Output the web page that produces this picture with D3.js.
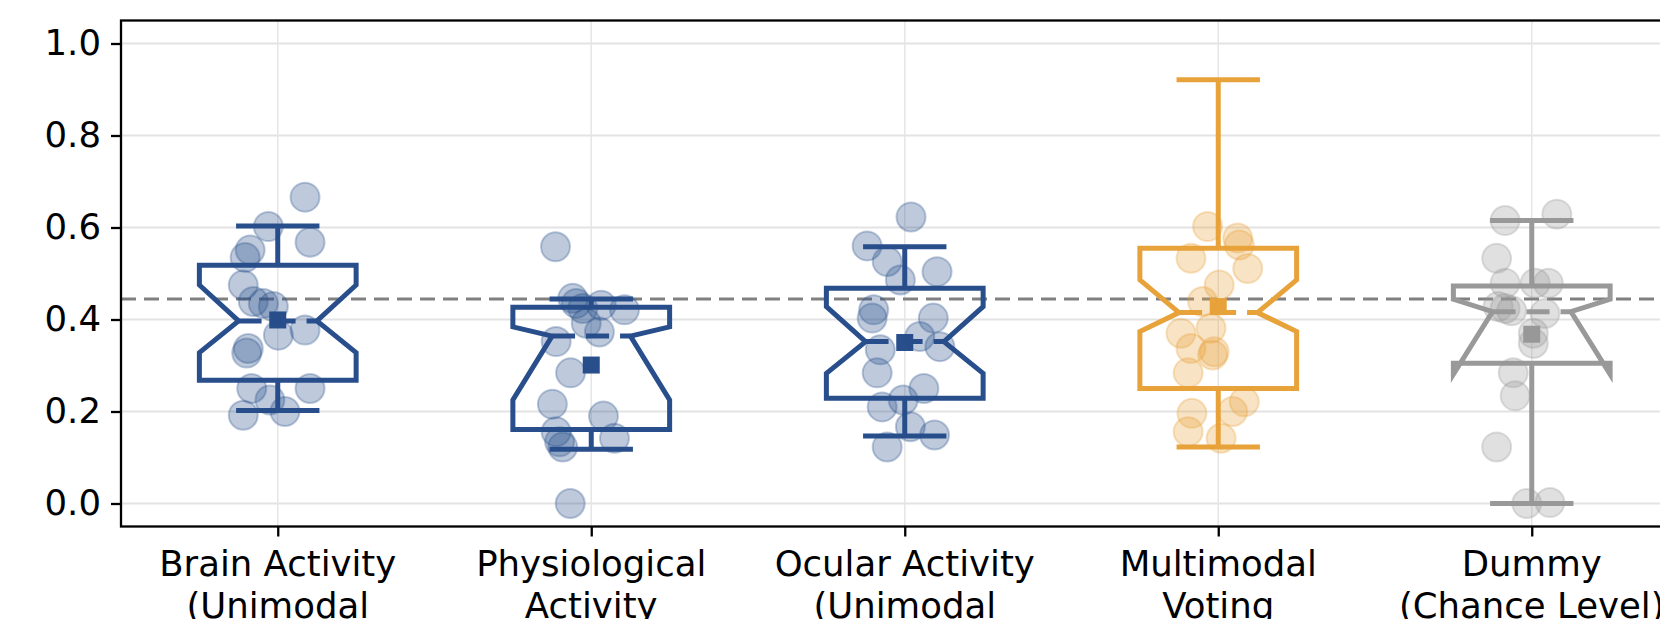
<!DOCTYPE html>
<html>
<head>
<meta charset="utf-8">
<script src="https://cdn.jsdelivr.net/npm/d3@7"></script>
<style>
  html, body { margin: 0; padding: 0; background: #fff; overflow: hidden; }
  svg { display: block; font-family: "DejaVu Sans", sans-serif; }
</style>
</head>
<body>
<div id="chart"></div>
<script>
// categories (x tick labels, two visible lines each)
const categories = [
  ["Brain Activity", "(Unimodal"],
  ["Physiological", "Activity"],
  ["Ocular Activity", "(Unimodal"],
  ["Multimodal", "Voting"],
  ["Dummy", "(Chance Level)"]
];

// box statistics
const whiskerLow  = [0.202, 0.118, 0.147, 0.123, 0.000];
const q1          = [0.268, 0.161, 0.229, 0.250, 0.305];
const notchLow    = [0.328, 0.225, 0.283, 0.374, 0.281];
const median      = [0.397, 0.364, 0.352, 0.415, 0.417];
const notchHigh   = [0.475, 0.384, 0.428, 0.486, 0.444];
const q3          = [0.518, 0.4265, 0.468, 0.555, 0.473];
const whiskerHigh = [0.603, 0.4446, 0.558, 0.921, 0.615];
const means       = [0.399, 0.301, 0.350, 0.428, 0.368];

const chanceLevel = 0.4446;

// individual scores per category
const pointValues = [
  [0.666, 0.602, 0.568, 0.551, 0.535, 0.475, 0.439, 0.435, 0.428, 0.366, 0.377, 0.337, 0.327, 0.250, 0.250, 0.225, 0.192, 0.200],
  [0.558, 0.446, 0.435, 0.424, 0.431, 0.421, 0.392, 0.373, 0.352, 0.284, 0.216, 0.190, 0.156, 0.142, 0.123, 0.134, 0.000],
  [0.623, 0.560, 0.526, 0.504, 0.486, 0.421, 0.403, 0.403, 0.363, 0.334, 0.341, 0.284, 0.250, 0.225, 0.210, 0.167, 0.149, 0.123],
  [0.602, 0.577, 0.562, 0.533, 0.511, 0.475, 0.439, 0.381, 0.370, 0.337, 0.330, 0.323, 0.284, 0.221, 0.200, 0.196, 0.156, 0.142],
  [0.615, 0.629, 0.533, 0.479, 0.479, 0.479, 0.428, 0.424, 0.419, 0.413, 0.370, 0.348, 0.284, 0.234, 0.123, 0.000, 0.002]
];
// horizontal jitter of each point, in category units
const pointJitter = [
  [0.087, -0.030, 0.103, -0.088, -0.104, -0.110, -0.078, -0.046, -0.014, 0.002, 0.087, -0.094, -0.099, -0.083, 0.103, -0.025, -0.110, 0.023],
  [-0.114, -0.059, -0.048, -0.027, 0.032, 0.106, -0.016, 0.026, -0.112, -0.066, -0.124, 0.039, -0.112, 0.074, -0.091, -0.101, -0.067],
  [0.020, -0.120, -0.056, 0.103, -0.014, -0.099, -0.104, 0.091, 0.048, -0.078, 0.112, -0.088, 0.061, -0.005, -0.072, 0.018, 0.095, -0.056],
  [-0.034, 0.062, 0.067, -0.087, 0.094, 0.003, -0.050, -0.023, -0.119, -0.087, -0.013, -0.018, -0.096, 0.083, 0.046, -0.084, -0.096, 0.009],
  [-0.085, 0.080, -0.112, -0.085, 0.011, 0.053, -0.107, -0.085, -0.064, 0.042, 0.005, 0.005, -0.059, -0.053, -0.112, -0.016, 0.058]
];

const yTicks = [0.0, 0.2, 0.4, 0.6, 0.8, 1.0];
const palette = ["#284e8c", "#284e8c", "#284e8c", "#e8a23a", "#999999"];

const W = 1660, H = 619;
const fontSize = 35.5;

const svg = d3.select("#chart")
  .append("svg")
    .attr("width", W)
    .attr("height", H);

//Scales
const x = d3.scaleLinear().domain([-0.5, 4.5]).range([121, 1688.5]);
const y = d3.scaleLinear().domain([-0.05, 1.05]).range([526.5, 20.5]);

//Grid
svg.append("g")
  .selectAll("line")
  .data(yTicks)
  .join("line")
    .attr("x1", x(-0.5)).attr("x2", x(4.5))
    .attr("y1", d => y(d)).attr("y2", d => y(d))
    .attr("stroke", "#e3e3e3")
    .attr("stroke-width", 2);

svg.append("g")
  .selectAll("line")
  .data(d3.range(categories.length))
  .join("line")
    .attr("x1", d => x(d)).attr("x2", d => x(d))
    .attr("y1", y(-0.05)).attr("y2", y(1.05))
    .attr("stroke", "#e6e6e6")
    .attr("stroke-width", 1.5);

//Chance level line
svg.append("line")
  .attr("x1", x(-0.5)).attr("x2", x(4.5))
  .attr("y1", y(chanceLevel)).attr("y2", y(chanceLevel))
  .attr("stroke", "#808080")
  .attr("stroke-width", 3)
  .attr("stroke-dasharray", "15,8");

//Boxes
const boxes = svg.append("g")
  .selectAll("g")
  .data(d3.range(categories.length))
  .join("g")
    .attr("stroke", i => palette[i])
    .attr("fill", "none")
    .attr("stroke-width", 5);

boxes.append("path")
  .attr("stroke-linejoin", "miter")
  .attr("d", i => {
    const l = x(i - 0.25), r = x(i + 0.25), nl = x(i - 0.125), nr = x(i + 0.125);
    return `M${l},${y(q1[i])}L${l},${y(notchLow[i])}L${nl},${y(median[i])}L${l},${y(notchHigh[i])}` +
      `L${l},${y(q3[i])}L${r},${y(q3[i])}L${r},${y(notchHigh[i])}L${nr},${y(median[i])}` +
      `L${r},${y(notchLow[i])}L${r},${y(q1[i])}Z`;
  });

// whiskers
boxes.append("line")
  .attr("x1", i => x(i)).attr("x2", i => x(i))
  .attr("y1", i => y(q3[i])).attr("y2", i => y(whiskerHigh[i]));
boxes.append("line")
  .attr("x1", i => x(i)).attr("x2", i => x(i))
  .attr("y1", i => y(q1[i])).attr("y2", i => y(whiskerLow[i]));

// caps
boxes.append("line")
  .attr("stroke-linecap", "square")
  .attr("x1", i => x(i - 0.125)).attr("x2", i => x(i + 0.125))
  .attr("y1", i => y(whiskerHigh[i])).attr("y2", i => y(whiskerHigh[i]));
boxes.append("line")
  .attr("stroke-linecap", "square")
  .attr("x1", i => x(i - 0.125)).attr("x2", i => x(i + 0.125))
  .attr("y1", i => y(whiskerLow[i])).attr("y2", i => y(whiskerLow[i]));

// median (dashed)
boxes.append("line")
  .attr("x1", i => x(i - 0.125)).attr("x2", i => x(i + 0.125))
  .attr("y1", i => y(median[i])).attr("y2", i => y(median[i]))
  .attr("stroke-dasharray", "23,11");

// means
boxes.append("rect")
  .attr("stroke", "none")
  .attr("fill", i => palette[i])
  .attr("x", i => x(i) - 8.5)
  .attr("y", i => y(means[i]) - 8.5)
  .attr("width", 17)
  .attr("height", 17);

//Points
const pts = [];
pointValues.forEach((vals, i) => vals.forEach((v, j) => pts.push({i, v, dx: pointJitter[i][j]})));

svg.append("g")
  .selectAll("circle")
  .data(pts)
  .join("circle")
    .attr("cx", d => x(d.i + d.dx))
    .attr("cy", d => y(d.v))
    .attr("r", 14.5)
    .attr("fill", d => palette[d.i])
    .attr("fill-opacity", 0.3)
    .attr("stroke", d => palette[d.i])
    .attr("stroke-opacity", 0.3)
    .attr("stroke-width", 2);

//Y axis
const yAxis = svg.append("g")
  .attr("transform", `translate(${x(-0.5)},0)`)
  .call(d3.axisLeft(y).tickValues(yTicks).tickFormat(d3.format(".1f")).tickSize(10).tickPadding(10));
yAxis.select(".domain").remove();
yAxis.selectAll(".tick line").attr("stroke", "#000").attr("stroke-width", 2.3);
yAxis.selectAll("text")
  .attr("fill", "#000")
  .style("font-size", fontSize + "px")
  .style("font-family", "DejaVu Sans");

//X axis
const xAxis = svg.append("g")
  .attr("transform", `translate(0,${y(-0.05)})`)
  .call(d3.axisBottom(x).tickValues(d3.range(categories.length)).tickFormat("").tickSize(10));
xAxis.select(".domain").remove();
xAxis.selectAll(".tick line").attr("stroke", "#000").attr("stroke-width", 2.3);

svg.append("g")
  .selectAll("text")
  .data(categories)
  .join("text")
    .attr("text-anchor", "middle")
    .style("font-size", fontSize + "px")
    .style("font-family", "DejaVu Sans")
    .attr("fill", "#000")
    .each(function(lines, i) {
      d3.select(this).selectAll("tspan")
        .data(lines)
        .join("tspan")
          .attr("x", x(i))
          .attr("y", (d, k) => 576 + k * 41.5)
          .text(d => d);
    });

//Spines
svg.append("rect")
  .attr("x", x(-0.5))
  .attr("y", y(1.05))
  .attr("width", x(4.5) - x(-0.5))
  .attr("height", y(-0.05) - y(1.05))
  .attr("fill", "none")
  .attr("stroke", "#000")
  .attr("stroke-width", 2.3);
</script>
</body>
</html>
